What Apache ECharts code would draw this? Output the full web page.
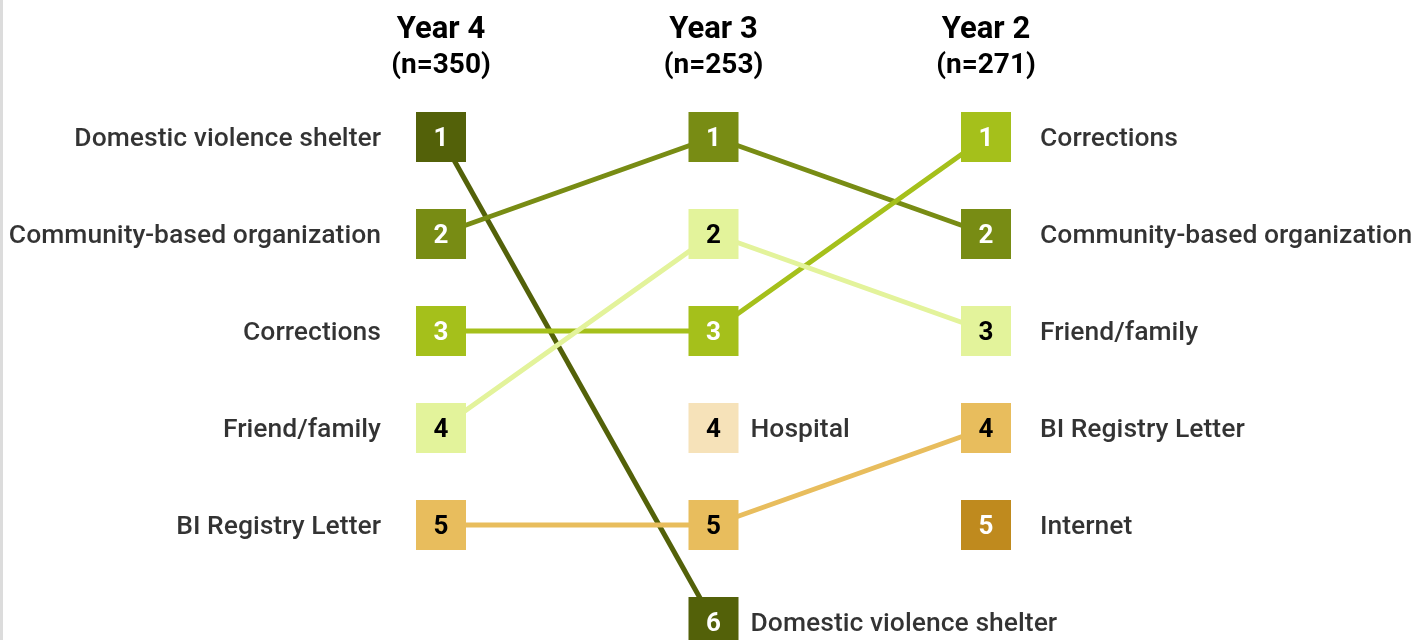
<!DOCTYPE html>
<html>
<head>
<meta charset="utf-8">
<script src="https://cdn.jsdelivr.net/npm/echarts@6/dist/echarts.min.js"></script>
<style>
  html, body { margin: 0; padding: 0; background: #fff; }
  #chart { width: 1415px; height: 640px; border-left: 3px solid #dcdcdc; box-sizing: border-box; }
</style>
</head>
<body>
<div id="chart"></div>
<script>
// columns (left to right) and sample sizes
const columns = ["Year 4", "Year 3", "Year 2"];
const sampleSizes = [350, 253, 271];

// ranking of each column, rank 1 first
const year4Ranks = ["Domestic violence shelter", "Community-based organization", "Corrections", "Friend/family", "BI Registry Letter"];
const year3Ranks = ["Community-based organization", "Friend/family", "Corrections", "Hospital", "BI Registry Letter", "Domestic violence shelter"];
const year2Ranks = ["Corrections", "Community-based organization", "Friend/family", "BI Registry Letter", "Internet"];

const categories = ["Domestic violence shelter", "Community-based organization", "Corrections", "Friend/family", "BI Registry Letter", "Hospital", "Internet"];
const colors = ["#536109", "#788c14", "#a5c01b", "#e3f39b", "#e8bd5d", "#f6e2b9", "#bf8a1e"];
const numberColors = ["#fff", "#fff", "#fff", "#000", "#000", "#000", "#fff"];

const rankLists = [year4Ranks, year3Ranks, year2Ranks];

const chart = echarts.init(document.getElementById("chart"));

const series = [];
const nameLabels = [];

categories.forEach((cat, ci) => {
  const data = rankLists.map((list, col) => {
    const r = list.indexOf(cat);
    return r < 0 ? [col, null] : [col, r + 1];
  });
  series.push({
    type: "line",
    name: cat,
    data: data,
    connectNulls: false,
    symbol: "rect",
    symbolSize: 50,
    lineStyle: { color: colors[ci], width: 5 },
    itemStyle: { color: colors[ci], borderWidth: 0 },
    label: {
      show: true,
      position: "inside",
      offset: [0, 2],
      formatter: p => p.value[1],
      color: numberColors[ci],
      fontFamily: "Roboto",
      fontWeight: "bold",
      fontSize: 26
    },
    emphasis: { disabled: true },
    animation: false,
    z: 2
  });

  // text labels: left column on the left, right column on the right,
  // middle column only where the item has no right neighbour
  data.forEach((d, col) => {
    if (d[1] == null) return;
    if (col === 1 && data[2][1] != null) return;
    nameLabels.push({
      value: [col, d[1]],
      name: cat,
      label: {
        position: col === 0 ? "left" : "right",
        distance: col === 0 ? 35 : col === 1 ? 12 : 29
      }
    });
  });
});

series.push({
  type: "scatter",
  data: nameLabels,
  symbol: "rect",
  symbolSize: 50,
  itemStyle: { color: "rgba(0,0,0,0)" },
  label: {
    show: true,
    formatter: p => p.name,
    offset: [0, 1],
    color: "#000",
    fontFamily: "'Roboto Medium', Roboto",
    fontWeight: 500,
    fontSize: 26.5
  },
  emphasis: { disabled: true },
  silent: true,
  animation: false,
  z: 3
});

chart.setOption({
  backgroundColor: "#fff",
  grid: { left: 438, width: 545, top: 137, height: 485 },
  xAxis: {
    type: "value",
    min: 0,
    max: 2,
    interval: 1,
    position: "top",
    axisLine: { show: false },
    axisTick: { show: false },
    splitLine: { show: false },
    axisLabel: {
      margin: 54,
      formatter: v => "{y|" + columns[v] + "}\n{n|(n=" + sampleSizes[v] + ")}",
      rich: {
        y: { fontFamily: "Roboto", fontWeight: "bold", fontSize: 31, color: "#000", lineHeight: 38 },
        n: { fontFamily: "Roboto", fontWeight: "bold", fontSize: 28, color: "#000", lineHeight: 34 }
      }
    }
  },
  yAxis: {
    type: "value",
    min: 1,
    max: 6,
    inverse: true,
    show: false
  },
  series: series
});
</script>
</body>
</html>
